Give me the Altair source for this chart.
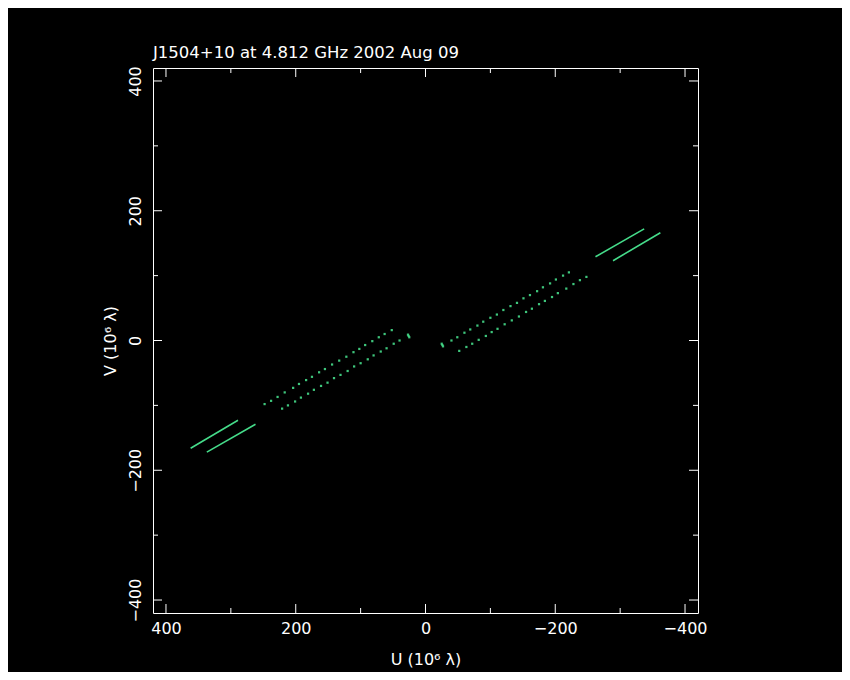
import altair as alt
import pandas as pd

TITLE = "J1504+10 at 4.812 GHz 2002 Aug 09"
X_TITLE = "U (10⁶ λ)"
Y_TITLE = "V (10⁶ λ)"

# sparse (dotted) parts of the two uv tracks, U>0 half
A_U = [248, 238, 228, 217, 204, 195, 184, 175, 164, 155, 144, 133, 122, 111, 102, 93, 82, 72, 63, 52]
A_V = [-98, -93, -87, -80, -73, -67, -61, -56, -49, -44, -37, -31, -25, -18, -13, -7, -1, 5, 10, 16]
B_U = [221, 212, 201, 192, 181, 172, 161, 151, 141, 131, 120, 110, 100, 89, 80, 69, 60, 49, 40]
B_V = [-105, -100, -94, -88, -82, -76, -70, -65, -58, -53, -47, -40, -35, -29, -23, -17, -12, -5, 0]

# dense (solid-looking) parts of the tracks
SEG_NAME = ["A", "A", "B", "B"]
SEG_U = [362, 289, 337, 262]
SEG_V = [-166, -123, -172, -129]

# short baseline cluster
C_U = [26, 25, 27]
C_V = [7, 5, 9]

MAJOR = [-400, -200, 0, 200, 400]
MINOR = [-300, -100, 100, 300]

GREEN = "#45dc8a"
W = 545
H = 545

pts = pd.DataFrame({"U": A_U + B_U + C_U, "V": A_V + B_V + C_V})
conj = pd.DataFrame({"U": [-u for u in pts["U"]], "V": [-v for v in pts["V"]]})
allpts = pd.concat([pts, conj], ignore_index=True)

seg = pd.DataFrame({"seg": SEG_NAME, "U": SEG_U, "V": SEG_V})
seg_c = pd.DataFrame({"seg": [s + "*" for s in SEG_NAME],
                      "U": [-u for u in SEG_U], "V": [-v for v in SEG_V]})
segs = pd.concat([seg, seg_c], ignore_index=True)

xs = alt.Scale(domain=[-420, 420], reverse=True, nice=False, zero=False)
ys = alt.Scale(domain=[-420, 420], nice=False, zero=False)

FONT = "DejaVu Sans"

xaxis = alt.Axis(values=MAJOR, ticks=False, domain=False, grid=False,
                 labelColor="white", labelFont=FONT, labelFontSize=16,
                 labelPadding=7, title=X_TITLE, titleColor="white",
                 titleFont=FONT, titleFontSize=16, titleFontWeight="normal",
                 titlePadding=15)
yaxis = alt.Axis(values=MAJOR, ticks=False, domain=False, grid=False,
                 labelColor="white", labelFont=FONT, labelFontSize=16,
                 labelAngle=-90, labelAlign="center", labelBaseline="bottom",
                 labelPadding=10, title=Y_TITLE, titleColor="white",
                 titleFont=FONT, titleFontSize=16, titleFontWeight="normal",
                 titlePadding=9)

points = alt.Chart(allpts).mark_square(size=5, color=GREEN, opacity=0.9).encode(
    x=alt.X("U:Q", scale=xs, axis=xaxis),
    y=alt.Y("V:Q", scale=ys, axis=yaxis),
)

lines = alt.Chart(segs).mark_line(color=GREEN, strokeWidth=1.6).encode(
    x=alt.X("U:Q", scale=xs, axis=xaxis),
    y=alt.Y("V:Q", scale=ys, axis=yaxis),
    detail="seg:N",
)

maj = pd.DataFrame({"t": MAJOR})
mnr = pd.DataFrame({"t": MINOR})


def xticks(df, length):
    top = alt.Chart(df).mark_rule(color="white", strokeWidth=1).encode(
        x=alt.X("t:Q", scale=xs, axis=xaxis), y=alt.value(0), y2=alt.value(length))
    bot = alt.Chart(df).mark_rule(color="white", strokeWidth=1).encode(
        x=alt.X("t:Q", scale=xs, axis=xaxis), y=alt.value(H), y2=alt.value(H - length))
    return [top, bot]


def yticks(df, length):
    left = alt.Chart(df).mark_rule(color="white", strokeWidth=1).encode(
        y=alt.Y("t:Q", scale=ys, axis=yaxis), x=alt.value(0), x2=alt.value(length))
    right = alt.Chart(df).mark_rule(color="white", strokeWidth=1).encode(
        y=alt.Y("t:Q", scale=ys, axis=yaxis), x=alt.value(W), x2=alt.value(W - length))
    return [left, right]


layers = [points, lines] + xticks(maj, 9) + xticks(mnr, 5) + yticks(maj, 9) + yticks(mnr, 5)

chart = alt.layer(*layers).properties(
    width=W, height=H,
    autosize="none",
    padding={"left": 145, "top": 60, "right": 144, "bottom": 59},
    title=alt.TitleParams(TITLE, anchor="start", frame="group", color="white",
                          fontSize=16.5, font=FONT, fontWeight="normal",
                          baseline="alphabetic", offset=10, dy=19),
).configure(background="black").configure_view(stroke="white", strokeWidth=1)

chart.save("out.html", embed_options={"renderer": "svg", "actions": False})
